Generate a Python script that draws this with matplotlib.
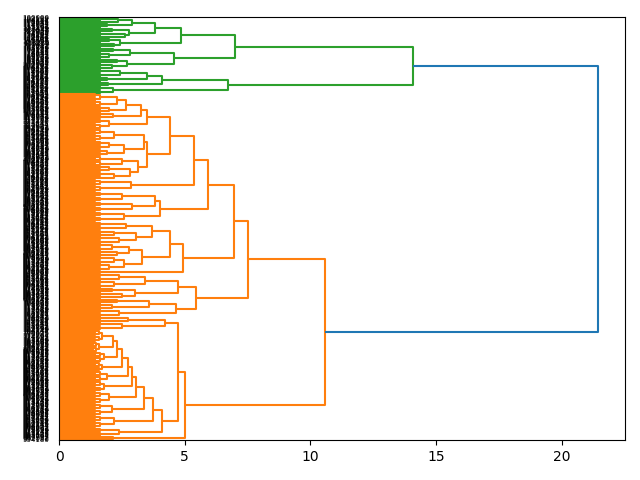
import matplotlib

matplotlib.use("Agg")
import matplotlib.pyplot as plt
from matplotlib.collections import LineCollection

# Tree. A node is [merge height, upper child, lower child];
# a tuple (n_leaves, top height) is a small leaf group whose inner merges are
# too dense to read, and is filled in with TWIG_LEVELS.
ROOT_HEIGHT = 21.45
TWIG_LEVELS = [1.62, 1.45, 1.3, 1.15, 1.0]

# leaf labels are unreadable six-digit ids in the picture
LABEL_START = 100000
LABEL_STEP = 2129

# --- green cluster (top) ---
G1111 = [2.89, (6, 2.35), (4, 1.9)]
G1112 = [2.79, (5, 2.1), (6, 2.63)]
G112 = [2.43, (4, 2.0), (5, 2.2)]
G121 = [2.83, (5, 2.15), (6, 2.0)]
G122 = [2.7, (5, 2.3), (6, 2.1)]
G211 = [3.49, (7, 2.43), (5, 1.9)]
GREEN = [14.09,
         [7.0, [4.85, [3.82, G1111, G1112], G112], [4.59, G121, G122]],
         [6.74, [4.1, G211, (5, 1.96)], (7, 2.15)]]

# --- orange cluster, upper part ---
N267 = [2.67, (13, 2.3), (6, 2.0)]
N349 = [3.49, [3.25, N267, (6, 2.15)], (10, 2.0)]
N35 = [3.5,
       [3.4, (12, 2.2), [2.6, (8, 2.0), (7, 1.9)]],
       [3.15, (10, 2.5), [2.83, (6, 2.0), (7, 2.2)]]]
OTA11 = [5.37, [4.4, N349, N35], (12, 2.87)]
OTA12 = [4.0, [3.82, (10, 2.5), (10, 2.9)], (10, 2.6)]
N369 = [3.69, (9, 2.67), [3.06, (6, 2.2), (7, 2.4)]]
N329 = [3.29, [2.8, (7, 2.1), (6, 2.3)], [2.6, (7, 2.2), (7, 2.0)]]
OTA2 = [4.95, [4.42, N369, N329], (3, 1.4)]
OTB = [5.45,
       [4.72, [3.42, (7, 2.4), (7, 2.2)], [3.02, (5, 2.1), (6, 2.5)]],
       [4.66, [3.6, (5, 2.3), (6, 2.1)], (7, 2.4)]]

# --- orange cluster, lower part (staircase) ---
CHAIN_TWIGS = [(12, 1.7), (10, 1.6), (10, 1.8), (9, 1.7), (10, 1.9),
               (10, 1.8), (12, 2.0), (12, 2.1), (12, 2.2)]
CHAIN_HEIGHTS = [2.15, 2.3, 2.5, 2.75, 2.9, 3.07, 3.4, 3.75]
N422 = [4.22, (6, 2.74), (7, 2.5)]


def build_chain():
    node = CHAIN_TWIGS[0]
    for h, twig in zip(CHAIN_HEIGHTS, CHAIN_TWIGS[1:]):
        node = [h, node, twig]
    return node


ORANGE = [10.6,
          [7.52, [6.96, [5.93, OTA11, OTA12], OTA2], OTB],
          [5.01, [4.72, N422, [4.08, build_chain(), (9, 2.4)]], (4, 2.15)]]


def expand(n, h, depth=0):
    if n == 1:
        return 0
    sub = min(TWIG_LEVELS[min(depth, len(TWIG_LEVELS) - 1)], h - 0.12)
    a = (n + 1) // 2
    return [h, expand(a, sub, depth + 1), expand(n - a, sub, depth + 1)]


leaf_y = []


def place(node, segs):
    """Return (height, y) of node, appending its links to segs."""
    if isinstance(node, tuple):
        node = expand(*node)
    if node == 0:
        y = 10 * len(leaf_y) + 5
        leaf_y.append(y)
        return 0.0, y
    h, up, low = node
    hu, yu = place(up, segs)
    hl, yl = place(low, segs)
    segs.append([(hu, yu), (h, yu), (h, yl), (hl, yl)])
    return h, (yu + yl) / 2


green_segs, orange_segs = [], []
hg, yg = place(GREEN, green_segs)
ho, yo = place(ORANGE, orange_segs)
root_seg = [[(hg, yg), (ROOT_HEIGHT, yg), (ROOT_HEIGHT, yo), (ho, yo)]]
n_leaves = len(leaf_y)
labels = [str(LABEL_START + LABEL_STEP * i) for i in range(n_leaves)]

fig = plt.figure(figsize=(6.4, 4.8), dpi=100)
ax = fig.add_axes([59 / 640, 40 / 480, 566 / 640, 423 / 480])
ax.add_collection(LineCollection(green_segs, colors="#2ca02c", linewidths=1.5))
ax.add_collection(LineCollection(orange_segs, colors="#ff7f0e", linewidths=1.5))
ax.add_collection(LineCollection(root_seg, colors="#1f77b4", linewidths=1.5))

ax.set_xlim(0, ROOT_HEIGHT * 1.05)
ax.set_ylim(10 * n_leaves, 0)
ax.set_yticks(leaf_y)
ax.set_yticklabels(labels, size=5)
for line in ax.get_yticklines():
    line.set_visible(False)

fig.savefig("out.png", dpi=100)
